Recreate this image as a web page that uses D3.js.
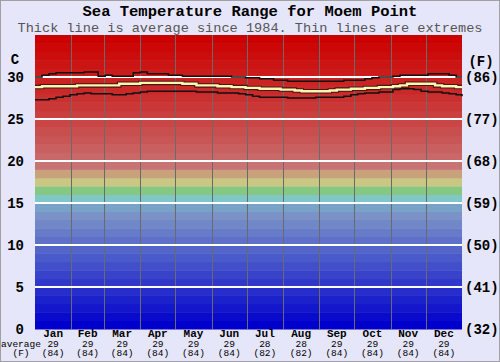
<!DOCTYPE html>
<html>
<head>
<meta charset="utf-8">
<script src="https://cdn.jsdelivr.net/npm/d3@7"></script>
<style>
  body { margin: 0; background: #e6e6fa; }
  svg { display: block; }
  text { font-family: "Liberation Mono", "Courier New", monospace; }
</style>
</head>
<body>
<div id="chart"></div>
<script>
// month labels and monthly averages shown under the chart
const months = ['Jan', 'Feb', 'Mar', 'Apr', 'May', 'Jun', 'Jul', 'Aug', 'Sep', 'Oct', 'Nov', 'Dec'];
const monthEnds = [0, 31, 59, 90, 120, 151, 181, 212, 243, 273, 304, 334, 365];
const monthAvgC = [29, 29, 29, 29, 29, 29, 28, 28, 29, 29, 29, 29];
const monthAvgF = [84, 84, 84, 84, 84, 84, 82, 82, 84, 84, 84, 84];

// day of year for each reading
const days = [0, 6, 12, 18, 24, 30, 36, 42, 48, 54, 60, 66, 72, 78, 84, 90, 96, 102, 108, 114, 120,
  126, 132, 138, 144, 150, 156, 162, 168, 174, 180, 186, 192, 198, 204, 210, 216, 222, 228, 234, 240,
  246, 252, 258, 264, 270, 276, 282, 288, 294, 300, 306, 312, 318, 324, 330, 336, 342, 348, 354, 360, 365];

// extremes and average (deg C)
const maxTemp = [30.0, 30.2, 30.4, 30.5, 30.5, 30.5, 30.5, 30.6, 30.6, 30.1, 30.2, 30.1, 30.1, 30.1, 30.5, 30.6, 30.4, 30.4, 30.4, 30.2, 30.2,
  30.1, 30.1, 30.1, 30.1, 30.1, 30.1, 30.1, 30.0, 30.0, 29.9, 29.9, 29.8, 29.8, 29.6, 29.6, 29.5, 29.5, 29.5, 29.5, 29.5,
  29.5, 29.5, 29.5, 29.6, 29.6, 29.6, 29.8, 29.9, 30.0, 30.0, 30.1, 30.2, 30.2, 30.2, 30.2, 30.4, 30.4, 30.4, 30.2, 30.0, 30.0];
const avgTemp = [28.8, 28.9, 28.9, 28.9, 28.9, 28.9, 29.0, 29.0, 29.0, 29.0, 29.0, 29.0, 29.2, 29.2, 29.2, 29.3, 29.3, 29.3, 29.3, 29.3, 29.3,
  29.2, 29.2, 29.0, 29.0, 29.0, 28.9, 28.9, 28.8, 28.8, 28.7, 28.7, 28.6, 28.6, 28.6, 28.5, 28.5, 28.4, 28.3, 28.3, 28.3,
  28.3, 28.4, 28.5, 28.5, 28.6, 28.6, 28.7, 28.7, 28.8, 28.8, 28.9, 29.0, 29.2, 29.2, 29.2, 29.2, 29.0, 28.9, 28.9, 28.8, 28.8];
const minTemp = [27.3, 27.3, 27.4, 27.6, 27.7, 27.9, 28.0, 28.1, 28.0, 28.0, 28.0, 27.9, 27.9, 28.0, 28.1, 28.2, 28.3, 28.3, 28.3, 28.3, 28.3,
  28.3, 28.3, 28.2, 28.2, 28.2, 28.1, 28.1, 28.1, 28.0, 27.9, 27.7, 27.6, 27.6, 27.6, 27.6, 27.5, 27.5, 27.5, 27.5, 27.6,
  27.6, 27.6, 27.6, 27.7, 27.9, 28.0, 28.1, 28.1, 28.2, 28.2, 28.5, 28.6, 28.6, 28.5, 28.3, 28.2, 28.2, 28.1, 28.0, 27.9, 27.7];

const tempTicks = [0, 5, 10, 15, 20, 25, 30];

const width = 500, height = 362;
const margin = {left: 35, right: 38, top: 35, bottom: 33};

const svg = d3.select('#chart').append('svg')
  .attr('width', width)
  .attr('height', height);

svg.append('rect')
  .attr('x', 0.5).attr('y', 0.5)
  .attr('width', width - 1).attr('height', height - 1)
  .attr('fill', '#e6e6fa')
  .attr('stroke', '#a0a0a0');

const x = d3.scaleLinear().domain([0, 365]).range([margin.left, width - margin.right]);
const y = d3.scaleLinear().domain([0, 35]).range([height - margin.bottom, margin.top]);

// colour bands, one per degree
const blue = d3.interpolateRgb('#0000cc', '#7a92c8');
const red = d3.interpolateRgb('#c87474', '#cc0000');
function bandColor(t) {
  if (t < 15) return t === 14 ? '#78a2c8' : blue(t / 13);
  if (t === 15) return '#80c8c8';
  if (t === 16) return '#84c884';
  if (t === 17) return '#c8c884';
  if (t === 18) return '#c8a27c';
  return red(Math.pow((t - 19) / 15, 0.85));
}
svg.append('g').selectAll('rect')
  .data(d3.range(0, 35))
  .join('rect')
  .attr('x', x(0))
  .attr('width', x(365) - x(0))
  .attr('y', d => y(d + 1))
  .attr('height', d => y(d) - y(d + 1) + 0.5)
  .attr('fill', d => bandColor(d));

// month separators
svg.append('g').selectAll('line')
  .data(monthEnds.slice(1, -1))
  .join('line')
  .attr('x1', d => Math.round(x(d)) + 0.5)
  .attr('x2', d => Math.round(x(d)) + 0.5)
  .attr('y1', y(35))
  .attr('y2', y(0))
  .attr('stroke', '#6a6a6a')
  .attr('stroke-width', 1);

// white grid
svg.append('g').selectAll('line')
  .data(tempTicks.slice(1))
  .join('line')
  .attr('x1', x(0))
  .attr('x2', x(365))
  .attr('y1', d => y(d))
  .attr('y2', d => y(d))
  .attr('stroke', '#fff')
  .attr('stroke-width', 2);

// lines
const line = vals => d3.line()
  .x((d, i) => x(days[i]))
  .y(d => y(d))
  .curve(d3.curveStepAfter)(vals);

[maxTemp, minTemp].forEach(vals => {
  svg.append('path')
    .attr('d', line(vals))
    .attr('fill', 'none')
    .attr('stroke', '#111')
    .attr('stroke-width', 1.5);
});
svg.append('path')
  .attr('d', line(avgTemp))
  .attr('fill', 'none')
  .attr('stroke', '#4a1414')
  .attr('stroke-width', 4.5);
svg.append('path')
  .attr('d', line(avgTemp))
  .attr('fill', 'none')
  .attr('stroke', '#f8f8b0')
  .attr('stroke-width', 2.4);

// axes
const leftAxis = svg.append('g')
  .attr('transform', `translate(${margin.left - 11},0)`)
  .call(d3.axisLeft(y).tickValues(tempTicks).tickSize(0).tickPadding(0));
const rightAxis = svg.append('g')
  .attr('transform', `translate(${x(365) + 3},0)`)
  .call(d3.axisRight(y).tickValues(tempTicks).tickSize(0).tickPadding(0)
    .tickFormat(d => `(${Math.round(d * 9 / 5 + 32)})`));
[leftAxis, rightAxis].forEach(g => {
  g.select('.domain').remove();
  g.selectAll('text')
    .attr('font-family', '"Liberation Mono", monospace')
    .attr('font-weight', 'bold')
    .attr('font-size', 14)
    .attr('fill', '#000');
});

svg.append('text')
  .attr('x', 15).attr('y', 64)
  .attr('text-anchor', 'middle')
  .attr('font-weight', 'bold').attr('font-size', 14)
  .text('C');
svg.append('text')
  .attr('x', 481).attr('y', 66)
  .attr('text-anchor', 'middle')
  .attr('font-weight', 'bold').attr('font-size', 14)
  .text('(F)');

// bottom labels
const mid = months.map((m, i) => (monthEnds[i] + monthEnds[i + 1]) / 2);
const bottom = svg.append('g');
bottom.selectAll('.mname')
  .data(months)
  .join('text')
  .attr('class', 'mname')
  .attr('x', (d, i) => x(mid[i]))
  .attr('y', 337)
  .attr('text-anchor', 'middle')
  .attr('font-weight', 'bold')
  .attr('font-size', 11)
  .text(d => d);
bottom.selectAll('.mc')
  .data(monthAvgC)
  .join('text')
  .attr('class', 'mc')
  .attr('x', (d, i) => x(mid[i]))
  .attr('y', 346.5)
  .attr('text-anchor', 'middle')
  .attr('font-size', 9.5)
  .text(d => d);
bottom.selectAll('.mf')
  .data(monthAvgF)
  .join('text')
  .attr('class', 'mf')
  .attr('x', (d, i) => x(mid[i]))
  .attr('y', 356)
  .attr('text-anchor', 'middle')
  .attr('font-size', 9.5)
  .text(d => `(${d})`);
svg.append('text')
  .attr('x', 1).attr('y', 346.5)
  .attr('font-size', 9.5)
  .text('average');
svg.append('text')
  .attr('x', 21).attr('y', 356)
  .attr('text-anchor', 'middle')
  .attr('font-size', 9.5)
  .text('(F)');

// titles
svg.append('text')
  .attr('x', width / 2).attr('y', 15.5)
  .attr('text-anchor', 'middle')
  .attr('font-weight', 'bold')
  .attr('font-size', 15.5)
  .text('Sea Temperature Range for Moem Point');
svg.append('text')
  .attr('x', width / 2).attr('y', 31.5)
  .attr('text-anchor', 'middle')
  .attr('font-size', 13.6)
  .attr('fill', '#555')
  .text('Thick line is average since 1984. Thin lines are extremes');
</script>
</body>
</html>
